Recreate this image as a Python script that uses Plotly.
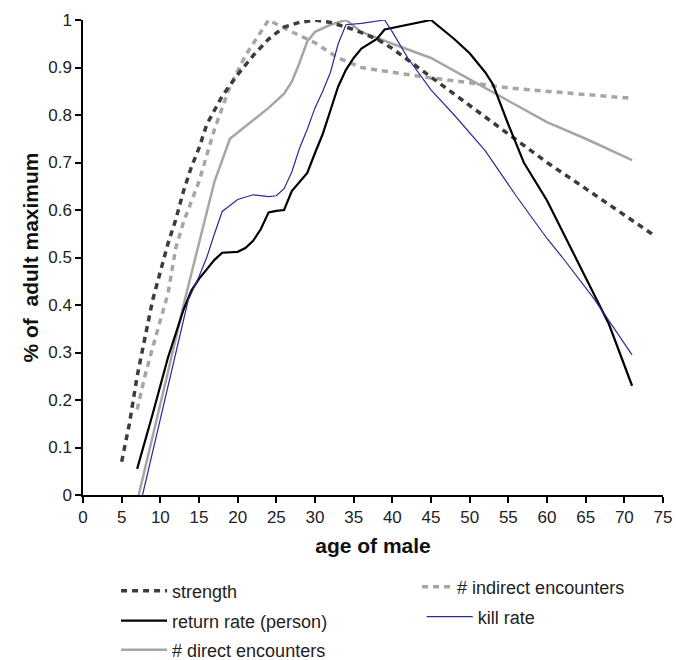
import plotly.graph_objects as go

# ---- data ----
strength_age = [5, 6, 7, 8, 9, 10, 11, 12, 13, 14, 15, 16, 18, 20, 22, 24, 26, 28, 30, 32, 35, 38, 40, 45, 50, 55, 60, 65, 70, 74]
strength = [0.07, 0.15, 0.25, 0.33, 0.41, 0.47, 0.53, 0.58, 0.64, 0.69, 0.73, 0.78, 0.84, 0.885, 0.925, 0.96, 0.985, 0.995, 1.0, 0.995, 0.98, 0.96, 0.94, 0.88, 0.82, 0.76, 0.70, 0.645, 0.59, 0.545]

return_age = [7, 8, 9, 10, 11, 12, 13, 14, 15, 16, 17, 18, 20, 21, 22, 23, 24, 25, 26, 27, 28, 29, 30, 31, 32, 33, 34, 35, 36, 38, 39, 42, 45, 48, 50, 52, 53, 55, 57, 60, 62, 65, 68, 71]
return_rate = [0.055, 0.11, 0.17, 0.23, 0.29, 0.34, 0.39, 0.43, 0.455, 0.475, 0.495, 0.51, 0.512, 0.52, 0.535, 0.56, 0.595, 0.598, 0.60, 0.64, 0.66, 0.678, 0.72, 0.76, 0.81, 0.86, 0.895, 0.92, 0.94, 0.96, 0.98, 0.99, 1.0, 0.96, 0.93, 0.89, 0.865, 0.78, 0.70, 0.62, 0.555, 0.46, 0.36, 0.23]

direct_age = [7.2, 9, 11, 13, 15, 17, 19, 22, 24, 26, 27, 28, 29, 30, 32, 34, 36, 40, 45, 50, 55, 60, 65, 71]
direct_enc = [0.0, 0.12, 0.26, 0.40, 0.53, 0.66, 0.75, 0.79, 0.815, 0.845, 0.87, 0.91, 0.955, 0.975, 0.99, 1.0, 0.975, 0.95, 0.92, 0.875, 0.83, 0.785, 0.75, 0.705]

indirect_age = [7, 8, 9, 10, 11, 12, 13, 15, 17, 18, 19, 21, 24, 27, 30, 33, 36, 40, 45, 50, 55, 60, 65, 71]
indirect_enc = [0.18, 0.25, 0.31, 0.37, 0.425, 0.52, 0.575, 0.66, 0.77, 0.815, 0.86, 0.925, 1.0, 0.975, 0.952, 0.92, 0.90, 0.89, 0.878, 0.868, 0.857, 0.85, 0.843, 0.835]

kill_age = [7.7, 10, 12, 13.6, 15, 16, 17, 18, 20, 22, 24, 25, 26, 27, 28, 29, 30, 31, 32, 33, 34, 36, 39, 40, 42, 45, 48, 52, 56, 60, 62, 66, 71]
kill_rate = [0.0, 0.16, 0.30, 0.41, 0.46, 0.50, 0.55, 0.597, 0.622, 0.632, 0.628, 0.63, 0.645, 0.68, 0.73, 0.77, 0.815, 0.85, 0.89, 0.95, 0.99, 0.993, 1.0, 0.975, 0.92, 0.853, 0.80, 0.725, 0.63, 0.54, 0.50, 0.415, 0.295]

x_ticks = list(range(0, 80, 5))
y_ticks = [round(i * 0.1, 1) for i in range(11)]

FONT = "Liberation Sans, Arial, sans-serif"
TXT = "#222222"

fig = go.Figure()

def add(x, y, name, color, width, dash, legend):
    fig.add_trace(go.Scatter(
        x=x, y=y, name=name, mode="lines",
        line=dict(color=color, width=width, dash=dash),
        legend=legend, showlegend=True,
    ))

# drawing order: light ones first
add(indirect_age, indirect_enc, "# indirect encounters", "#a6a6a6", 3.5, "6px,5px", "legend4")
add(direct_age, direct_enc, "# direct encounters", "#a6a6a6", 2.5, "solid", "legend3")
add(strength_age, strength, "strength", "#3c3c3c", 3.5, "6px,5px", "legend")
add(return_age, return_rate, "return rate (person)", "#000000", 2.2, "solid", "legend2")
add(kill_age, kill_rate, "kill rate", "#2a2a9a", 1.2, "solid", "legend5")

def leg(x, y, w):
    return dict(x=x, y=y, xanchor="left", yanchor="middle",
                font=dict(size=18, color=TXT, family=FONT),
                itemwidth=w, bgcolor="rgba(0,0,0,0)", borderwidth=0)

# plot area: 83..663 px wide (580), 20..495 px tall (475)
fig.update_layout(
    width=676, height=660,
    margin=dict(l=83, r=13, t=20, b=165, autoexpand=False),
    paper_bgcolor="white", plot_bgcolor="white",
    font=dict(family=FONT, color=TXT, size=17),
    legend=leg(0.057, (495 - 591) / 475, 46),
    legend2=leg(0.057, (495 - 621) / 475, 46),
    legend3=leg(0.057, (495 - 650) / 475, 46),
    legend4=leg(0.576, (495 - 587) / 475, 30),
    legend5=leg(0.584, (495 - 617) / 475, 46),
    xaxis=dict(
        range=[0, 75], tickmode="array", tickvals=x_ticks,
        ticktext=[str(v) for v in x_ticks],
        showline=True, linecolor="#000000", linewidth=1.5,
        ticks="outside", ticklen=6, tickcolor="#000000", tickwidth=1.5,
        showgrid=False, zeroline=False,
        tickfont=dict(size=17, color=TXT),
        title=dict(text="<b>age of male</b>", font=dict(size=21, color="#111111"), standoff=12),
    ),
    yaxis=dict(
        range=[0, 1], tickmode="array", tickvals=y_ticks,
        ticktext=["0" if v == 0 else ("1" if v == 1 else str(v)) for v in y_ticks],
        showline=True, linecolor="#000000", linewidth=1.5,
        ticks="outside", ticklen=6, tickcolor="#000000", tickwidth=1.5,
        showgrid=False, zeroline=False,
        tickfont=dict(size=17, color=TXT),
        title=dict(text="<b>% of&nbsp; adult maximum</b>", font=dict(size=21, color="#111111"), standoff=4),
    ),
)

fig.write_html(
    "out.html",
    config={"displayModeBar": False},
    post_script="document.body.style.margin='0';document.body.style.overflow='hidden';",
)
